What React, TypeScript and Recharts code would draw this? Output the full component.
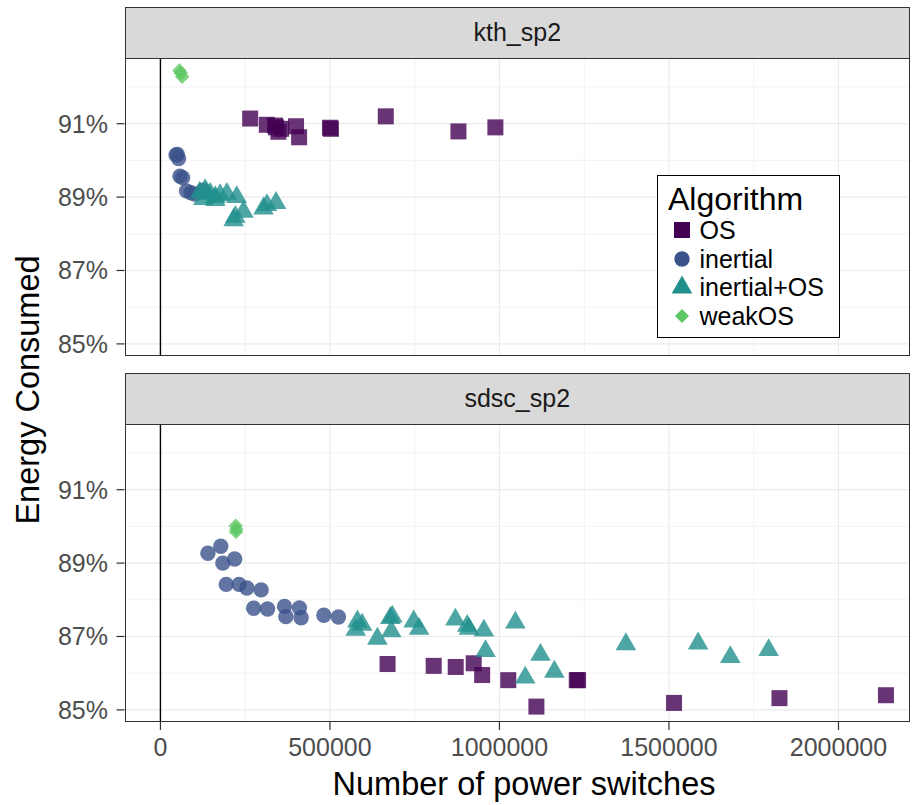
import { CartesianGrid, ReferenceLine, Scatter, ScatterChart, XAxis, YAxis } from "recharts";

// kth_sp2 panel
const kthOsSwitches = [264700, 313700, 338000, 341000, 348000, 356000, 400000, 409000, 500000, 503000, 664700, 879000, 988000];
const kthOsEnergy = [91.14, 90.97, 90.95, 90.9, 90.78, 90.86, 90.93, 90.63, 90.89, 90.86, 91.2, 90.79, 90.9];

const kthInertialSwitches = [46000, 50000, 53500, 57500, 65300, 77000, 90000, 101700, 126000];
const kthInertialEnergy = [90.15, 90.16, 90.05, 89.57, 89.53, 89.17, 89.12, 89.08, 89.19];

const kthInertialOsSwitches = [116000, 132000, 147000, 162000, 176000, 196000, 225000, 216000, 221000, 245000, 304000, 314000, 341000, 127000, 162000];
const kthInertialOsEnergy = [89.12, 89.19, 89.09, 89.0, 89.05, 89.09, 89.0, 88.37, 88.46, 88.6, 88.69, 88.78, 88.84, 88.95, 88.92];

const kthWeakOsSwitches = [56000, 60000, 64000];
const kthWeakOsEnergy = [92.45, 92.38, 92.28];

// sdsc_sp2 panel
const sdscOsSwitches = [670000, 806000, 871000, 924000, 949000, 1026000, 1109000, 1228000, 1232000, 1515000, 1826000, 2140000];
const sdscOsEnergy = [86.25, 86.2, 86.17, 86.27, 85.95, 85.81, 85.09, 85.81, 85.81, 85.19, 85.32, 85.4];

const sdscInertialSwitches = [140000, 178000, 184000, 219000, 194000, 232000, 255000, 297000, 275000, 316000, 366000, 370000, 410000, 415000, 482000, 525000];
const sdscInertialEnergy = [89.27, 89.46, 89.0, 89.11, 88.42, 88.42, 88.32, 88.27, 87.77, 87.75, 87.82, 87.54, 87.78, 87.51, 87.58, 87.53];

const sdscInertialOsSwitches = [581000, 595000, 576000, 640000, 684000, 678000, 681000, 747000, 763000, 870000, 905000, 910000, 954000, 959000, 1047000, 1121000, 1076000, 1162000, 1373000, 1586000, 1681000, 1794000];
const sdscInertialOsEnergy = [87.41, 87.32, 87.18, 86.94, 87.54, 87.5, 87.14, 87.41, 87.21, 87.46, 87.29, 87.21, 87.16, 86.6, 87.38, 86.5, 85.88, 86.04, 86.79, 86.81, 86.44, 86.63];

const sdscWeakOsSwitches = [222000, 224000, 223000];
const sdscWeakOsEnergy = [90.02, 89.92, 89.85];

const xTicks = [0, 500000, 1000000, 1500000, 2000000];
const xGridMinor = [250000, 750000, 1250000, 1750000];
const yTicks = [85, 87, 89, 91];
const yGridMinor = [86, 88, 90, 92];

const colors = { OS: "#440154", inertial: "#3B528B", inertialOS: "#21908C", weakOS: "#5DC863" };
const FONT = "'Liberation Sans', Arial, Helvetica, sans-serif";

const zip = (xs: number[], ys: number[]) => xs.map((x, i) => ({ x, y: ys[i] }));

const SquareShape = (p: any) => <rect x={p.cx - 8} y={p.cy - 8} width={16} height={16} fill={p.fill} fillOpacity={0.8} />;
const CircleShape = (p: any) => <circle cx={p.cx} cy={p.cy} r={7.7} fill={p.fill} fillOpacity={0.8} />;
const TriangleShape = (p: any) => {
  const xc = 10.3, r = 11.9;
  return <path d={`M${p.cx},${p.cy - r}L${p.cx + xc},${p.cy + r / 2}L${p.cx - xc},${p.cy + r / 2}Z`} fill={p.fill} fillOpacity={0.8} />;
};
const DiamondShape = (p: any) => {
  const d = 7.2;
  return <path d={`M${p.cx},${p.cy - d}L${p.cx + d},${p.cy}L${p.cx},${p.cy + d}L${p.cx - d},${p.cy}Z`} fill={p.fill} fillOpacity={0.8} />;
};

interface PanelProps {
  top: number;
  height: number;
  showX: boolean;
  os: any[];
  inertial: any[];
  inertialOS: any[];
  weakOS: any[];
}

function Panel({ top, height, showX, os, inertial, inertialOS, weakOS }: PanelProps) {
  return (
    <div style={{ position: "absolute", left: 0, top, width: 913, height }}>
      <ScatterChart width={913} height={height} margin={{ top: 58, right: 3, bottom: showX ? 0 : height - 58 - 298, left: 0 }}>
        <CartesianGrid stroke="#EBEBEB" strokeWidth={0.6} horizontalValues={yGridMinor} verticalValues={xGridMinor} />
        <CartesianGrid stroke="#EBEBEB" strokeWidth={1.2} horizontalValues={yTicks} verticalValues={xTicks} />
        <XAxis
          type="number"
          dataKey="x"
          domain={[-106000, 2211000]}
          allowDataOverflow
          ticks={xTicks}
          interval={0}
          hide={!showX}
          height={showX ? height - 58 - 298 : 0}
          axisLine={false}
          tickLine={{ stroke: "#333333", strokeWidth: 1.2 }}
          tickSize={8}
          tickMargin={8}
          tick={{ fill: "#4D4D4D", fontSize: 25, fontFamily: FONT }}
          tickFormatter={(v: number) => String(v)}
        />
        <YAxis
          type="number"
          dataKey="y"
          domain={[84.67, 92.79]}
          allowDataOverflow
          ticks={yTicks}
          interval={0}
          width={124.5}
          axisLine={false}
          tickLine={{ stroke: "#333333", strokeWidth: 1.2 }}
          tickSize={8}
          tickMargin={8.5}
          tick={{ fill: "#4D4D4D", fontSize: 25, fontFamily: FONT }}
          tickFormatter={(v: number) => `${v}%`}
        />
        <ReferenceLine x={0} stroke="#000000" strokeWidth={1.4} />
        <Scatter data={os} fill={colors.OS} shape={SquareShape} isAnimationActive={false} />
        <Scatter data={inertial} fill={colors.inertial} shape={CircleShape} isAnimationActive={false} />
        <Scatter data={inertialOS} fill={colors.inertialOS} shape={TriangleShape} isAnimationActive={false} />
        <Scatter data={weakOS} fill={colors.weakOS} shape={DiamondShape} isAnimationActive={false} />
      </ScatterChart>
      <div style={{ position: "absolute", left: 124.5, top: 58, width: 785.5, height: 298, border: "1.2px solid #333333", boxSizing: "border-box", pointerEvents: "none" }} />
    </div>
  );
}

function Strip({ top, label }: { top: number; label: string }) {
  return (
    <div
      style={{
        position: "absolute", left: 124.5, top, width: 785.5, height: 52, background: "#D9D9D9",
        border: "1.2px solid #333333", boxSizing: "border-box", display: "flex", alignItems: "center",
        justifyContent: "center", fontFamily: FONT, fontSize: 25, color: "#1A1A1A",
      }}
    >
      {label}
    </div>
  );
}

const legendItems = [
  { label: "OS", color: colors.OS, kind: "square" },
  { label: "inertial", color: colors.inertial, kind: "circle" },
  { label: "inertial+OS", color: colors.inertialOS, kind: "triangle" },
  { label: "weakOS", color: colors.weakOS, kind: "diamond" },
];

function LegendKey({ kind, color }: { kind: string; color: string }) {
  return (
    <svg width={24} height={24} style={{ position: "absolute", left: 0, top: -12 }}>
      {kind === "square" && <rect x={4} y={4} width={16} height={16} fill={color} />}
      {kind === "circle" && <circle cx={12} cy={12} r={7.7} fill={color} />}
      {kind === "triangle" && <path d="M12,0.5L22.3,18.4L1.7,18.4Z" fill={color} />}
      {kind === "diamond" && <path d="M12,5L19,12L12,19L5,12Z" fill={color} />}
    </svg>
  );
}

export default function App() {
  return (
    <div style={{ position: "absolute", left: 0, top: 0, width: 913, height: 805, background: "#FFFFFF", overflow: "hidden" }}>
      <Panel
        top={0}
        height={360}
        showX={false}
        os={zip(kthOsSwitches, kthOsEnergy)}
        inertial={zip(kthInertialSwitches, kthInertialEnergy)}
        inertialOS={zip(kthInertialOsSwitches, kthInertialOsEnergy)}
        weakOS={zip(kthWeakOsSwitches, kthWeakOsEnergy)}
      />
      <Panel
        top={366}
        height={439}
        showX={true}
        os={zip(sdscOsSwitches, sdscOsEnergy)}
        inertial={zip(sdscInertialSwitches, sdscInertialEnergy)}
        inertialOS={zip(sdscInertialOsSwitches, sdscInertialOsEnergy)}
        weakOS={zip(sdscWeakOsSwitches, sdscWeakOsEnergy)}
      />
      <Strip top={6.5} label="kth_sp2" />
      <Strip top={372.5} label="sdsc_sp2" />
      <div
        style={{
          position: "absolute", left: 28, top: 390, transform: "translate(-50%, -50%) rotate(-90deg)",
          whiteSpace: "nowrap", fontFamily: FONT, fontSize: 32.5, color: "#000000",
        }}
      >
        Energy Consumed
      </div>
      <div
        style={{
          position: "absolute", left: 524, top: 784, transform: "translate(-50%, -50%)",
          whiteSpace: "nowrap", fontFamily: FONT, fontSize: 32.5, color: "#000000",
        }}
      >
        Number of power switches
      </div>
      <div
        style={{
          position: "absolute", left: 657, top: 175, width: 183, height: 163, border: "1.5px solid #000000",
          boxSizing: "border-box", background: "#FFFFFF", fontFamily: FONT,
        }}
      >
        <div style={{ position: "absolute", left: 10, top: 5, fontSize: 32, lineHeight: "36px", color: "#000000" }}>Algorithm</div>
        {legendItems.map((item, i) => (
          <div key={item.label} style={{ position: "absolute", left: 11.5, top: 54 + i * 28.6, width: 170 }}>
            <LegendKey kind={item.kind} color={item.color} />
            <div style={{ position: "absolute", left: 30, top: -14, fontSize: 25, lineHeight: "28px", color: "#000000", whiteSpace: "nowrap" }}>
              {item.label}
            </div>
          </div>
        ))}
      </div>
    </div>
  );
}
